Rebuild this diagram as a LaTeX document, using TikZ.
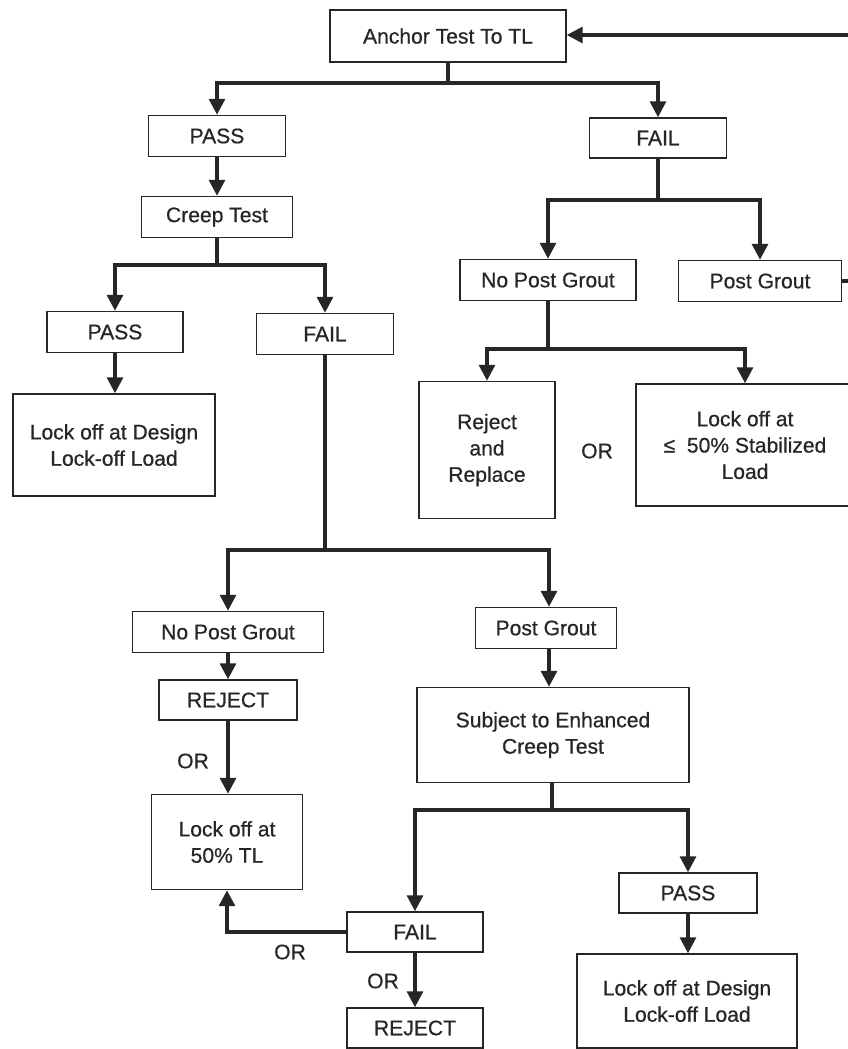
\documentclass[tikz,border=0pt]{standalone}
\usepackage{fontspec}
\setmainfont{Liberation Sans}[FakeBold=0.6]
\usetikzlibrary{arrows.meta,calc}
\definecolor{ink}{HTML}{262626}
\tikzset{
  box/.style={draw=ink, line width=0.9pt, fill=white, inner sep=0pt, align=center, font=\fontsize{12}{15}\selectfont, text=ink},
  lnk/.style={draw=ink, line width=1.9pt},
  arr/.style={lnk, -{Triangle[length=9pt,width=9pt]}},
  lbl/.style={font=\fontsize{12}{15}\selectfont, text=ink, inner sep=0pt}
}
\begin{document}
\begin{tikzpicture}[x=0.02cm,y=-0.02cm]
\useasboundingbox (0,0) rectangle (848,1049);
\fill[white] (0,0) rectangle (848,1049);

% nodes
\node[box, minimum width=4.72cm, minimum height=1.04cm] (anchor) at (448,36) {Anchor Test To TL};
\node[box, minimum width=2.74cm, minimum height=0.82cm] (pass1) at (217,136) {PASS};
\node[box, minimum width=2.74cm, minimum height=0.80cm] (fail1) at (658,138) {FAIL};
\node[box, minimum width=3.02cm, minimum height=0.82cm] (creep) at (217,217) {Creep Test};
\node[box, minimum width=2.72cm, minimum height=0.82cm] (pass2) at (115,332) {PASS};
\node[box, minimum width=2.74cm, minimum height=0.82cm] (fail2) at (325,334) {FAIL};
\node[box, minimum width=4.04cm, minimum height=2.04cm] (lock1) at (114,445) {Lock off at Design\\Lock-off Load};
\node[box, minimum width=3.52cm, minimum height=0.82cm] (npg1) at (548,280) {No Post Grout};
\node[box, minimum width=3.26cm, minimum height=0.82cm] (pg1) at (760,281) {Post Grout};
\node[box, minimum width=2.72cm, minimum height=2.74cm] (rej1) at (487,450) {Reject\\and\\Replace};
\node[lbl] (or1) at (597,451) {OR};
\node[box, minimum width=4.36cm, minimum height=2.44cm] (lockle) at (745,445) {Lock off at\\≤\ \ 50\% Stabilized\\Load};
\node[box, minimum width=3.82cm, minimum height=0.82cm] (npg2) at (228,632) {No Post Grout};
\node[box, minimum width=2.82cm, minimum height=0.82cm] (pg2) at (546,628) {Post Grout};
\node[box, minimum width=2.76cm, minimum height=0.80cm] (rej2) at (228,700) {REJECT};
\node[lbl] (or2) at (193,761) {OR};
\node[box, minimum width=3.02cm, minimum height=1.90cm] (lock50) at (227,842) {Lock off at\\50\% TL};
\node[box, minimum width=5.44cm, minimum height=1.90cm] (subj) at (553,735) {Subject to Enhanced\\Creep Test};
\node[box, minimum width=2.72cm, minimum height=0.80cm] (fail3) at (415,932) {FAIL};
\node[lbl] (or3) at (290,952) {OR};
\node[lbl] (or4) at (383,981) {OR};
\node[box, minimum width=2.72cm, minimum height=0.80cm] (rej3) at (415,1028) {REJECT};
\node[box, minimum width=2.76cm, minimum height=0.80cm] (pass3) at (688,893) {PASS};
\node[box, minimum width=4.40cm, minimum height=1.88cm] (lock2) at (687,1001) {Lock off at Design\\Lock-off Load};

% junctions
\coordinate (j1) at (448,83);
\coordinate (j2) at (217,265);
\coordinate (j3) at (658,200);
\coordinate (j4) at (548,349);
\coordinate (j5) at (325,550);
\coordinate (j6) at (552,810);
\coordinate (rt1) at (858,281);
\coordinate (rt2) at (858,35);

% connectors
\draw[lnk] (anchor.south) -- (j1);
\draw[arr] (j1) -| (pass1.north);
\draw[arr] (j1) -| (fail1.north);
\draw[arr] (pass1) -- (creep);
\draw[lnk] (creep.south) -- (j2);
\draw[arr] (j2) -| (pass2.north);
\draw[arr] (j2) -| (fail2.north);
\draw[arr] (pass2) -- (pass2 |- lock1.north);
\draw[lnk] (fail1.south) -- (j3);
\draw[arr] (j3) -| (npg1.north);
\draw[arr] (j3) -| (pg1.north);
\draw[lnk] (npg1.south) -- (j4);
\draw[arr] (j4) -| (rej1.north);
\draw[arr] (j4) -| (lockle.north);
\draw[arr] (pg1.east) -- (rt1) -- (rt2) -- (anchor.east |- rt2);
\draw[lnk] (fail2.south) -- (j5);
\draw[arr] (j5) -| (npg2.north);
\draw[arr] (j5) -| ($(pg2.north)+(3,0)$);
\draw[arr] (npg2) -- (rej2);
\draw[arr] (rej2) -- (lock50.north -| rej2);
\draw[arr] ($(pg2.south)+(3,0)$) -- ($(pg2.south |- subj.north)+(3,0)$);
\draw[lnk] (subj.south -| j6) -- (j6);
\draw[arr] (j6) -| (fail3.north);
\draw[arr] (j6) -| (pass3.north);
\draw[arr] (fail3.west) -| (lock50.south);
\draw[arr] (fail3) -- (rej3);
\draw[arr] (pass3) -- (pass3 |- lock2.north);
\end{tikzpicture}
\end{document}
